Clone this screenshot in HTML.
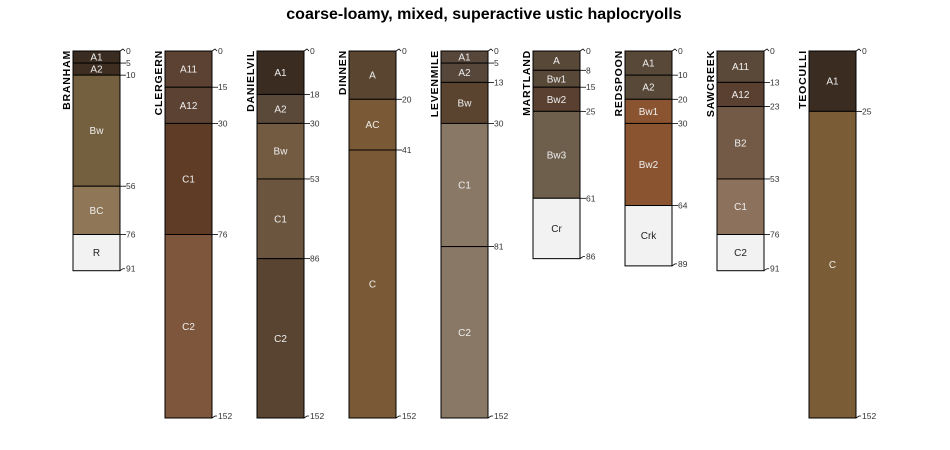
<!DOCTYPE html>
<html><head><meta charset="utf-8"><style>
html,body{margin:0;padding:0;background:#fff;}
svg{display:block;font-family:"Liberation Sans",sans-serif;}
</style></head><body>
<svg id="chart" width="950" height="450" xmlns="http://www.w3.org/2000/svg">
<text x="484" y="19" text-anchor="middle" font-size="16" font-weight="bold">coarse-loamy, mixed, superactive ustic haplocryolls</text>
<g id="profiles"></g>
</svg>
<script>
const profileNames = ["BRANHAM","CLERGERN","DANIELVIL","DINNEN","LEVENMILE","MARTLAND","REDSPOON","SAWCREEK","TEOCULLI"];
const horizonNames = [
 ["A1","A2","Bw","BC","R"],
 ["A11","A12","C1","C2"],
 ["A1","A2","Bw","C1","C2"],
 ["A","AC","C"],
 ["A1","A2","Bw","C1","C2"],
 ["A","Bw1","Bw2","Bw3","Cr"],
 ["A1","A2","Bw1","Bw2","Crk"],
 ["A11","A12","B2","C1","C2"],
 ["A1","C"]
];
const horizonBottoms = [
 [5,10,56,76,91],
 [15,30,76,152],
 [18,30,53,86,152],
 [20,41,152],
 [5,13,30,81,152],
 [8,15,25,61,86],
 [10,20,30,64,89],
 [13,23,53,76,91],
 [25,152]
];
const horizonColors = [
 ["#3a2c20","#3e2e22","#74603f","#8e7657","#f2f2f2"],
 ["#5c4232","#5c4232","#5f3c26","#7e563c"],
 ["#3a2c20","#5a4838","#735b42","#6b553e","#584430"],
 ["#5a4530","#7a5a36","#7a5a36"],
 ["#57473a","#57473a","#5a4430","#8a7866","#8a7866"],
 ["#584838","#584838","#5a4030","#6e5e4c","#f2f2f2"],
 ["#584838","#584838","#8a5430","#8a5430","#f2f2f2"],
 ["#5a4838","#5a4030","#735a46","#8c725c","#f2f2f2"],
 ["#3a2c20","#7a5c36"]
];
const NS="http://www.w3.org/2000/svg";
const g=document.getElementById('profiles');
const y0=51, pxPerCm=(418-51)/152;
function yScale(d){return y0+d*pxPerCm;}
function xLeft(i){return 73+i*92;}
const W=47;
function mk(tag,attrs,parent){const e=document.createElementNS(NS,tag);for(const k in attrs)e.setAttribute(k,attrs[k]);parent.appendChild(e);return e;}
function isLight(c){const n=parseInt(c.slice(1),16);return ((n>>16)&255)+((n>>8)&255)+(n&255)>600;}
profileNames.forEach((name,i)=>{
  const pg=mk('g',{},g);
  
  
  const x=xLeft(i);
  const t=mk('text',{x:0,y:0,'font-size':10.5,'font-weight':'bold','letter-spacing':0.8,'text-anchor':'end',transform:`translate(${x-3},${y0-1}) rotate(-90)`},pg);
  t.textContent=name;
  
  
  let top=0;
  horizonBottoms[i].forEach((bot,j)=>{
    const ya=yScale(top), yb=yScale(bot);
    const r=mk('rect',{x:x,y:ya,width:W,height:yb-ya,fill:horizonColors[i][j],stroke:'#000','stroke-width':1},pg);
    
    
    const lt=mk('text',{x:x+W/2,y:(ya+yb)/2+3.5,'font-size':10,'text-anchor':'middle',fill:isLight(horizonColors[i][j])?'#222':'#eee'},pg);
    lt.textContent=horizonNames[i][j];
    
    
    top=bot;
  });
  const depths=[0].concat(horizonBottoms[i]);
  depths.forEach((d,k)=>{
    const y=yScale(d);
    const last=k===depths.length-1, first=k===0;
    if(first) mk('polyline',{points:`${x+W},${y} ${x+W+3},${y-2} ${x+W+5},${y}`,fill:'none',stroke:'#000','stroke-width':0.8},pg);
    else if(last) mk('polyline',{points:`${x+W},${y} ${x+W+3},${y-2} ${x+W+5},${y-2}`,fill:'none',stroke:'#000','stroke-width':0.8},pg);
    else mk('line',{x1:x+W,y1:y,x2:x+W+6,y2:y,stroke:'#000','stroke-width':0.8},pg);
    const dt=mk('text',{x:x+W+6,y:y+(last?1:3),'font-size':8.5,fill:'#333'},pg);
    dt.textContent=d;
    
    
  });
});
</script>
</body></html>
